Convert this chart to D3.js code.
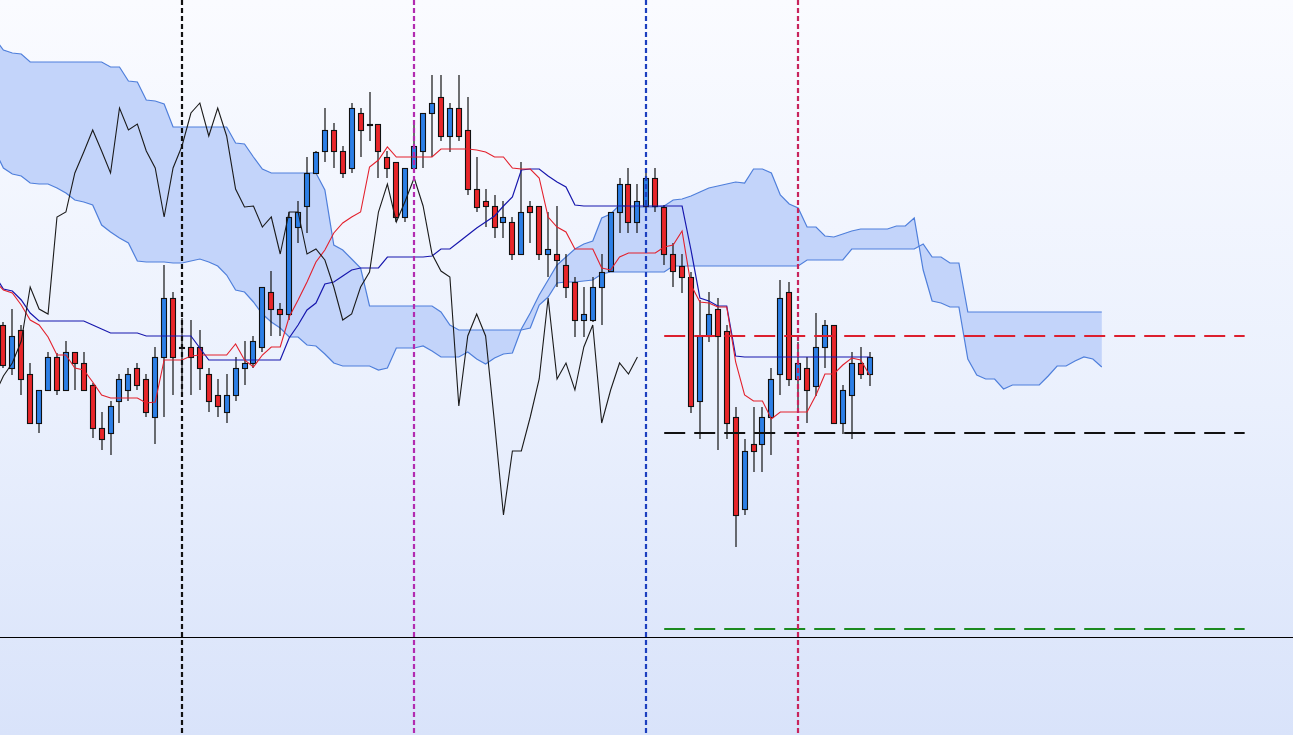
<!DOCTYPE html>
<html>
<head>
<meta charset="utf-8">
<script src="https://cdn.jsdelivr.net/npm/d3@7"></script>
<style>
html, body { margin: 0; padding: 0; overflow: hidden; background: #ffffff; }
svg { display: block; }
</style>
</head>
<body>
<svg id="chart" width="1293" height="735"></svg>
<script>
// ---------------- DATA (price units, higher = up) ----------------
const opens = [
  675,632,670,626,577,610,643,610,648,637,
  615,572,567,599,610,632,621,583,643,702,
  653,653,653,626,605,588,605,632,637,653,
  708,691,686,773,794,827,849,870,849,832,
  887,876,876,843,838,783,832,849,887,903,
  864,892,870,811,799,794,778,778,746,794,
  794,746,746,735,718,680,680,713,729,788,
  816,778,794,822,793,746,734,723,599,664,
  691,669,583,491,556,556,583,626,708,621,
  632,614,653,675,577,605,637,626
];
const highs = [
  678,691,675,637,610,648,647,659,648,648,
  617,588,599,626,632,637,626,653,735,708,
  682,680,670,632,621,626,643,659,664,713,
  729,697,788,799,843,849,892,877,854,897,
  892,908,876,849,838,832,875,887,925,925,
  897,925,903,843,811,805,799,783,838,799,
  794,788,794,746,723,713,723,746,788,822,
  832,816,832,832,795,757,746,728,700,708,
  702,675,593,561,593,593,632,720,718,658,
  643,687,680,675,615,648,653,648
];
const lows = [
  632,625,605,576,567,609,605,609,610,609,
  562,550,545,577,599,610,583,556,583,605,
  608,605,610,588,583,577,599,615,632,648,
  664,664,680,757,767,827,838,832,822,827,
  843,859,822,822,778,778,827,832,843,859,
  848,859,805,788,773,762,762,740,746,757,
  740,723,713,702,663,663,678,675,729,767,
  767,767,788,788,735,713,707,587,561,658,
  550,561,453,485,528,528,545,605,614,592,
  577,604,632,577,566,561,621,614
];
const closes = [
  635,664,621,577,610,643,610,648,637,610,
  572,561,594,621,626,615,588,643,702,643,
  653,643,632,599,594,605,632,637,659,713,
  691,686,783,788,827,848,870,849,827,892,
  870,876,849,832,783,832,854,887,897,864,
  892,864,811,793,794,773,783,746,788,788,
  746,751,740,713,680,686,713,728,788,816,
  778,799,822,794,746,729,723,594,664,686,
  664,577,485,549,549,583,621,702,621,637,
  610,653,675,577,610,637,626,643
];

// indicator lines start one period before the first visible candle
const lineStart = -1;
const tenkan = [
  719,
  710,707,695,680,675,663,645,645,632,630,
  618,605,602,602,602,602,597,598,640,640,
  640,644,645,645,645,645,656,640,633,645,
  653,653,683,700,718,738,750,767,777,783,
  788,833,840,853,843,843,843,843,843,851,
  851,851,851,850,848,843,843,832,831,831,
  822,783,773,768,751,751,751,732,730,743,
  747,747,747,747,753,755,769,715,698,697,
  693,693,638,605,599,599,581,588,588,588,
  588,605,626,626,635,642,640,625
];
const kijun = [
  725,
  711,709,700,687,679,679,679,679,679,679,
  675,671,667,667,667,667,664,664,664,664,
  664,664,652,640,640,640,640,640,640,640,
  640,640,662,675,690,697,716,718,724,730,
  732,732,732,743,743,743,743,743,744,751,
  751,758,765,772,778,784,794,803,830,831,
  831,824,818,813,795,794,794,794,794,794,
  794,794,794,794,794,794,794,750,702,699,
  694,694,644,643,643,643,643,643,643,643,
  643,643,643,643,643,643,643,643
];
const spanA = [
  850,
  832,826,824,817,816,816,812,807,800,798,
  795,775,768,762,757,739,738,738,738,737,
  737,739,741,738,734,725,710,708,698,686,
  678,672,663,663,655,654,646,637,634,634,
  634,634,630,632,652,652,652,654,649,643,
  643,643,648,641,636,642,646,647,671,687,
  705,720,735,743,751,756,759,782,786,795,
  793,793,793,793,794,800,801,804,808,812,
  814,816,818,817,831,831,827,805,796,792,
  773,773,764,763,766,769,771,771,771,771,
  774,774,782,730,699,697,693,693,641,625,
  621,621,611,615,615,615,615,624,634,634,
  639,643,641,633
];
const spanB = [
  962,
  950,947,946,938,938,938,938,938,938,938,
  938,938,933,933,919,918,900,899,896,873,
  873,873,873,873,873,873,857,856,843,831,
  827,827,827,827,827,827,810,755,750,741,
  732,694,694,694,694,694,694,694,694,688,
  675,670,670,670,670,670,670,670,670,672,
  695,703,717,718,718,719,720,726,728,728,
  728,728,728,728,728,734,734,734,734,734,
  734,734,734,734,734,734,734,734,734,734,
  740,740,740,740,740,751,751,751,751,751,
  751,751,751,756,743,743,737,737,688,688,
  688,688,688,688,688,688,688,688,688,688,
  688,688,688,688
];
const chikou = [
  605,
  624,637,659,713,691,686,783,788,827,848,
  870,849,827,892,870,876,849,832,783,832,
  854,887,897,864,892,864,811,793,794,773,
  783,746,788,788,746,751,740,713,680,686,
  713,728,788,816,778,799,822,794,746,729,
  723,594,664,686,664,577,485,549,549,583,
  621,702,621,637,610,653,675,577,610,637,
  626,643
];

// marker bars (vertical) and price levels (horizontal)
const markerIndex = [20, 46, 72, 89];
const levelPrices = [664, 567, 371];
const levelFrom = 74;
const levelTo = 139;
const basePrice = 363;

// ---------------- STYLE ----------------
const W = 1293, H = 735;
const markerColors = ["#111111", "#b22bb0", "#1c3fbf", "#c8245c"];
const levelColors = ["#dc1f2e", "#111111", "#1b8a1f"];
const upFill = "#2d7fe6", downFill = "#e8262a", candleStroke = "#111111";

const svg = d3.select("#chart");
const defs = svg.append("defs");
const grad = defs.append("linearGradient").attr("id", "bg")
  .attr("x1", 0).attr("y1", 0).attr("x2", 0).attr("y2", 1);
grad.append("stop").attr("offset", "0%").attr("stop-color", "#fafbff");
grad.append("stop").attr("offset", "55%").attr("stop-color", "#eaf0fd");
grad.append("stop").attr("offset", "100%").attr("stop-color", "#d9e3fa");
svg.append("rect").attr("width", W).attr("height", H).attr("fill", "url(#bg)");

const x = d3.scaleLinear().domain([0, 97]).range([3.4, 869.6]);
const y = d3.scaleLinear().domain([265, 1000]).range([H, 0]);

// ---------------- CLOUD ----------------
const cloud = spanA.map((a, k) => ({ i: k + lineStart, a: a, b: spanB[k] }));
svg.append("path").datum(cloud)
  .attr("d", d3.area().x(d => x(d.i)).y0(d => y(d.a)).y1(d => y(d.b)))
  .attr("fill", "#c3d4fa").attr("stroke", "none");
const lineOf = (arr) => d3.line().x((d, k) => x(k + lineStart)).y(d => y(d))(arr);
svg.append("path").attr("d", lineOf(spanA)).attr("fill", "none")
  .attr("stroke", "#4f7fdb").attr("stroke-width", 1.2);
svg.append("path").attr("d", lineOf(spanB)).attr("fill", "none")
  .attr("stroke", "#4f7fdb").attr("stroke-width", 1.2);

// ---------------- BASE LINE ----------------
const by = Math.round(y(basePrice)) + 0.5;
svg.append("line").attr("x1", 0).attr("x2", W).attr("y1", by).attr("y2", by)
  .attr("stroke", "#000").attr("stroke-width", 1);

// ---------------- CANDLES ----------------
const candles = svg.append("g");
opens.forEach((o, i) => {
  const c = closes[i];
  const cx = Math.round(x(i));
  candles.append("line")
    .attr("x1", cx).attr("x2", cx)
    .attr("y1", y(highs[i])).attr("y2", y(lows[i]))
    .attr("stroke", candleStroke).attr("stroke-width", 1.2);
  const top = Math.round(y(Math.max(o, c)));
  const bot = Math.round(y(Math.min(o, c)));
  candles.append("rect")
    .attr("x", cx - 2.5).attr("width", 5)
    .attr("y", top + 0.5).attr("height", Math.max(1, bot - top))
    .attr("fill", c >= o ? upFill : downFill)
    .attr("stroke", candleStroke).attr("stroke-width", 1.1);
});

// ---------------- LINES ----------------
svg.append("path").attr("d", lineOf(kijun)).attr("fill", "none")
  .attr("stroke", "#1717ad").attr("stroke-width", 1.2);
svg.append("path").attr("d", lineOf(tenkan)).attr("fill", "none")
  .attr("stroke", "#e3202c").attr("stroke-width", 1.1);
svg.append("path").attr("d", lineOf(chikou)).attr("fill", "none")
  .attr("stroke", "#1a1a1a").attr("stroke-width", 1.1);

// ---------------- LEVELS ----------------
levelPrices.forEach((p, k) => {
  const ly = Math.round(y(p));
  svg.append("line").attr("x1", x(levelFrom)).attr("x2", x(levelTo))
    .attr("y1", ly).attr("y2", ly)
    .attr("stroke", levelColors[k]).attr("stroke-width", 2)
    .attr("stroke-dasharray", "21,9");
});

// ---------------- MARKERS ----------------
markerIndex.forEach((m, k) => {
  const mx = Math.round(x(m));
  svg.append("line").attr("x1", mx).attr("x2", mx).attr("y1", 0).attr("y2", H)
    .attr("stroke", markerColors[k]).attr("stroke-width", 2.2)
    .attr("stroke-dasharray", "5,3");
});
</script>
</body>
</html>
